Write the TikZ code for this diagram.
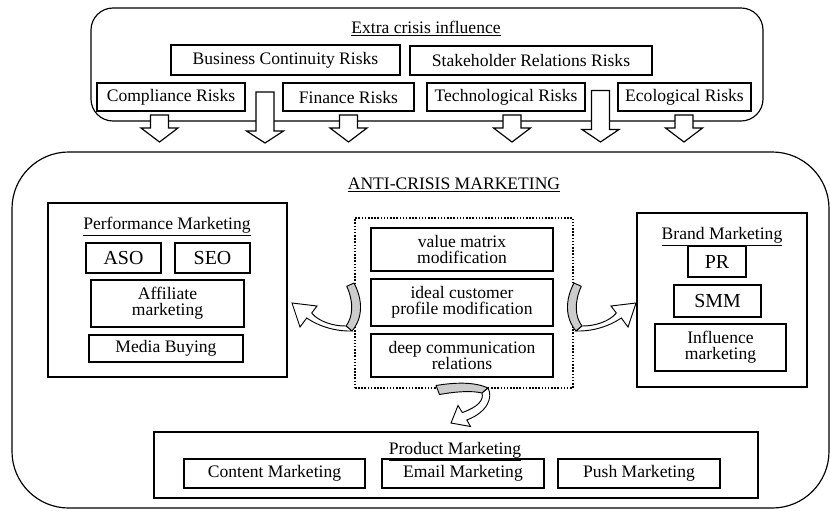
\documentclass[tikz,border=0pt]{standalone}
\usepackage{fontspec}
\setmainfont{Liberation Serif}
\usetikzlibrary{calc, positioning}
\tikzset{
	box/.style = {rectangle, draw = black, line width = 1.4pt, minimum height = 9mm, text centered, font = \fontsize{15pt}{14pt}\selectfont},
	outer/.style = {rectangle, draw = black, line width = 1pt, rounded corners = 6.6mm},
	group/.style = {rectangle, draw = black, line width = 1.4pt},
	dottedbox/.style = {rectangle, draw = black, line width = 2pt, dash pattern = on 1.3pt off 1.4pt},
	title/.style = {anchor = base, font = \fontsize{15pt}{14pt}\selectfont},
	big/.style = {font = \fontsize{17pt}{16pt}\selectfont},
	blockarrow/.style = {draw = black, fill = white, line width = 1pt, line join = miter},
	ribbonback/.style = {draw = black, fill = gray!40, line width = 0.8pt, line join = round},
	ribbon/.style = {draw = black, fill = white, line width = 0.8pt, line join = miter}
}
% down block arrow: start point, shaft length, head length
\newcommand{\riskarrow}[3]{%
	\draw [blockarrow] #1 ++(-9,0) -- ++(0,#2) -- ++(-9.5,0) -- ++(18.5,#3) -- ++(18.5,-#3) -- ++(-9.5,0) -- ++(0,-#2) -- cycle;}

\begin{document}
\begin{tikzpicture}[x = 0.3mm, y = -0.3mm, inner sep = 0pt, outer sep = 0pt]
	\useasboundingbox (0,0) rectangle (830,510);

	%% extra crisis influence
	\node (extra) [outer, minimum width = 201.6mm, minimum height = 33.9mm] at (427,64.5) {};
	\node (extratitle) [title] at (426,33.5) {\underline{Extra crisis influence}};
	% risk nodes
	\node (bcr) [box, minimum width = 68.7mm] at (285.5,60) {Business Continuity Risks};
	\node (srr) [box, minimum width = 72.6mm, minimum height = 8.7mm] at (531,60.5) {Stakeholder Relations Risks};
	\node (comp) [box, minimum width = 44.4mm, minimum height = 8.4mm] at (171,97) {Compliance Risks};
	\node (fin) [box, minimum width = 39.3mm, minimum height = 8.4mm] at (348.5,97) {Finance Risks};
	\node (tech) [box, minimum width = 47.4mm, minimum height = 8.4mm] at (506,97) {Technological Risks};
	\node (eco) [box, minimum width = 39.9mm, minimum height = 8.4mm] at (684.5,97) {Ecological Risks};

	%% anti-crisis marketing
	\node (anti) [outer, rounded corners = 17mm, minimum width = 245.1mm, minimum height = 106.8mm] at (420.5,330) {};
	\node (antititle) [title] at (454,189.5) {\underline{ANTI-CRISIS MARKETING}};

	% performance marketing
	\node (perf) [group, minimum width = 71.7mm, minimum height = 52.2mm] at (167.5,290) {};
	\node (perftitle) [title] at (167,229.5) {\underline{Performance Marketing}};
	\node (aso) [box, big, minimum width = 22.5mm] at (123.5,258) {ASO};
	\node (seo) [box, big, minimum width = 22.5mm] at (212.5,258) {SEO};
	\node (aff) [box, align = center, minimum width = 45.9mm, minimum height = 14.1mm] at (167.5,303.5) {Affiliate\\marketing};
	\node (media) [box, minimum width = 46.2mm, minimum height = 8.1mm] at (166,348.5) {Media Buying};

	% core changes
	\node (core) [dottedbox, minimum width = 65.4mm, minimum height = 51mm] at (464,303) {};
	\node (vmm) [box, align = center, minimum width = 54.6mm, minimum height = 12.9mm] at (462,249.5) {value matrix\\modification};
	\node (icp) [box, align = center, minimum width = 54.6mm, minimum height = 14.1mm] at (462,302.5) {ideal customer\\profile modification};
	\node (dcr) [box, align = center, minimum width = 54.6mm, minimum height = 12.9mm] at (462,355.5) {deep communication\\relations};

	% brand marketing
	\node (brand) [group, minimum width = 51mm, minimum height = 52.2mm] at (722,300) {};
	\node (brandtitle) [title] at (722,239.5) {\underline{Brand Marketing}};
	\node (pr) [box, big, minimum width = 17.4mm, minimum height = 9.3mm] at (717,261.5) {PR};
	\node (smm) [box, big, minimum width = 26.1mm, minimum height = 9.6mm] at (717.5,301) {SMM};
	\node (infl) [box, align = center, minimum width = 39.3mm, minimum height = 14.1mm] at (720.5,347.5) {Influence\\marketing};

	% product marketing
	\node (prod) [group, minimum width = 181.2mm, minimum height = 19.8mm] at (456,465) {};
	\node (prodtitle) [title] at (455,454.5) {\underline{Product Marketing}};
	\node (content) [box, minimum width = 54.3mm, minimum height = 8.7mm] at (274.5,473.5) {Content Marketing};
	\node (email) [box, minimum width = 48.6mm, minimum height = 8.7mm] at (463,473.5) {Email Marketing};
	\node (push) [box, minimum width = 48.6mm, minimum height = 8.7mm] at (639,473.5) {Push Marketing};

	%%% arrows %%%
	\riskarrow{($(comp.south)+(-11.5,4)$)}{13}{14}
	\riskarrow{($(bcr.south)+(-20.5,17)$)}{39}{12}
	\riskarrow{($(fin.south)+(0,4)$)}{13}{14}
	\riskarrow{($(tech.south)+(6,4)$)}{13}{14}
	\riskarrow{($(srr.south)+(69.5,15.5)$)}{39}{12.5}
	\riskarrow{($(eco.south)+(-0.5,4)$)}{13}{14}

	% core -> perf
	\begin{scope}[shift = {(core.west)}]
		\draw [ribbonback] (-8.3,-16.7) -- (-1,-20) .. controls (8,-3) and (8,15) .. (-3,28) -- (-9,23) .. controls (-2,14) and (-1,-1) .. cycle;
		\draw [ribbon] (-3,28) .. controls (-18.3,28.5) and (-35,24) .. (-48.3,15) -- (-55,24) -- (-63,0) -- (-38,3) -- (-43.3,10) .. controls (-36.7,18.3) and (-21.7,23.3) .. (-9,23) -- cycle;
	\end{scope}
	% core -> brand
	\begin{scope}[shift = {(core.east)}, xscale = -1]
		\draw [ribbonback] (-8.3,-16.7) -- (-1,-20) .. controls (8,-3) and (8,15) .. (-3,28) -- (-9,23) .. controls (-2,14) and (-1,-1) .. cycle;
		\draw [ribbon] (-3,28) .. controls (-18.3,28.5) and (-35,24) .. (-48.3,15) -- (-55,24) -- (-63,0) -- (-38,3) -- (-43.3,10) .. controls (-36.7,18.3) and (-21.7,23.3) .. (-9,23) -- cycle;
	\end{scope}
	% core -> prod
	\begin{scope}[shift = {(core.south)}]
		\draw [ribbonback] (-28,-2.5) .. controls (-10,-5.5) and (10,-6.5) .. (24,0) -- (18,5) .. controls (8,2.5) and (-8,3.5) .. (-24.5,6.5) -- cycle;
		\draw [ribbon] (24,0) .. controls (29,9) and (24,24) .. (2.8,32) -- (6.5,38.5) -- (-13,35) -- (-6,17.5) -- (-1.7,24.5) .. controls (14,19) and (20,12) .. (18,5) -- cycle;
	\end{scope}
\end{tikzpicture}
\end{document}
